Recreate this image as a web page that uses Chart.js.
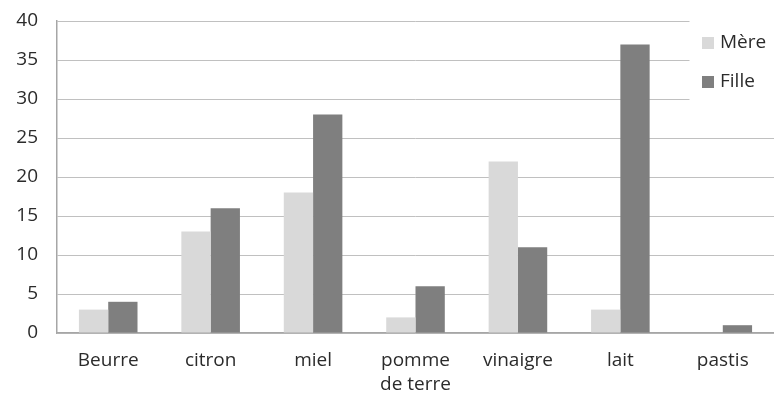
<!DOCTYPE html>
<html>
<head>
<meta charset="utf-8">
<script src="https://cdn.jsdelivr.net/npm/chart.js@4/dist/chart.umd.min.js"></script>
<style>
  html, body { margin: 0; padding: 0; background: #ffffff; }
  #wrap { width: 774px; height: 395px; position: relative; }
</style>
</head>
<body>
<div id="wrap"><canvas id="chart"></canvas></div>
<script>
// Categories and the two series (Mère / Fille)
const categories = ['Beurre', 'citron', 'miel', ['pomme', 'de terre'], 'vinaigre', 'lait', 'pastis'];
const mereValues = [3, 13, 18, 2, 22, 3, 0];
const filleValues = [4, 16, 28, 6, 11, 37, 1];
const seriesNames = ['Mère', 'Fille'];
const yTicks = [0, 5, 10, 15, 20, 25, 30, 35, 40];

const FONT = '"Open Sans", "DejaVu Sans", sans-serif';
const TEXT = '#2b2b2b';

// Legend drawn in the upper right corner, over a white panel
const cornerLegend = {
  id: 'cornerLegend',
  afterDraw(chart) {
    const ctx = chart.ctx;
    ctx.save();
    ctx.fillStyle = '#ffffff';
    ctx.fillRect(689.5, 15, 90, 104);
    const rows = [43, 82];
    chart.data.datasets.forEach((ds, i) => {
      const y = rows[i];
      ctx.fillStyle = ds.backgroundColor;
      ctx.fillRect(702, y - 6, 12, 12);
      ctx.fillStyle = TEXT;
      ctx.font = '19px ' + FONT;
      ctx.textBaseline = 'middle';
      ctx.textAlign = 'left';
      ctx.fillText(ds.label, 720, y);
    });
    ctx.restore();
  }
};

new Chart(document.getElementById('chart'), {
  type: 'bar',
  data: {
    labels: categories,
    datasets: [
      { label: seriesNames[0], data: mereValues, backgroundColor: '#d9d9d9' },
      { label: seriesNames[1], data: filleValues, backgroundColor: '#7f7f7f' }
    ]
  },
  options: {
    responsive: true,
    maintainAspectRatio: false,
    animation: false,
    layout: { padding: { top: 21, right: 0, left: 0, bottom: 0 } },
    datasets: { bar: { categoryPercentage: 0.572, barPercentage: 1.0 } },
    plugins: {
      legend: { display: false },
      tooltip: { enabled: false }
    },
    scales: {
      x: {
        grid: { display: false, drawTicks: false },
        border: { display: true, color: '#a6a6a6', width: 1.5 },
        ticks: {
          color: TEXT,
          font: { family: FONT, size: 19, lineHeight: 1.25 },
          padding: 16,
          maxRotation: 0,
          autoSkip: false
        },
        afterFit(scale) { scale.height = 62; }
      },
      y: {
        min: 0,
        max: 40,
        afterBuildTicks(scale) { scale.ticks = yTicks.map(v => ({ value: v })); },
        grid: { color: '#c0c0c0', lineWidth: 1, drawTicks: false },
        border: { display: true, color: '#a6a6a6', width: 1.5 },
        ticks: {
          color: TEXT,
          font: { family: FONT, size: 19 },
          padding: 19
        },
        afterFit(scale) {
          scale.width = 57;
          scale.paddingTop = 0;
          scale.paddingBottom = 0;
        }
      }
    }
  },
  plugins: [cornerLegend]
});
</script>
</body>
</html>
